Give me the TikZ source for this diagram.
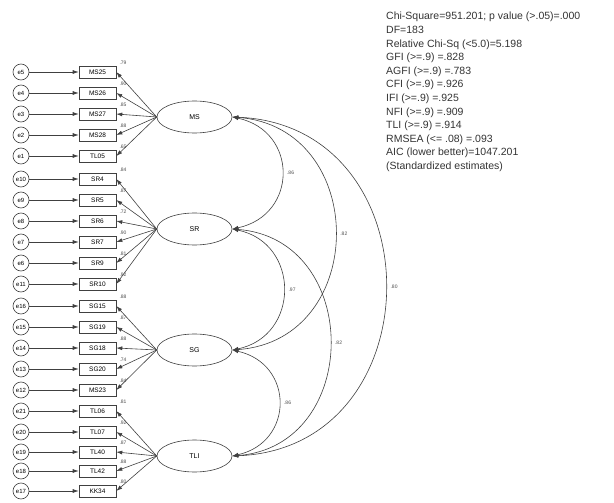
\documentclass[tikz,border=0pt]{standalone}
\usepackage{fontspec}
\setmainfont{Liberation Sans}
\usetikzlibrary{arrows.meta,shapes.geometric}
\begin{document}
\begin{tikzpicture}[x=1pt,y=-1pt,
  errnode/.style={circle,draw=black!75,line width=0.6pt,minimum size=16pt,inner sep=0pt,font=\fontsize{6}{6}\selectfont},
  obsbox/.style={rectangle,draw=black!75,line width=0.6pt,minimum width=37pt,minimum height=12pt,inner sep=0pt,font=\fontsize{6.5}{6.5}\selectfont},
  latent/.style={ellipse,draw=black!75,line width=0.6pt,minimum width=75pt,minimum height=32pt,inner sep=0pt,font=\fontsize{7}{7}\selectfont},
  lnk/.style={draw=black!75,line width=0.6pt,-{Latex[length=6pt,width=4pt]}},
  cov/.style={draw=black!75,line width=0.6pt,{Latex[length=6pt,width=4pt]}-{Latex[length=6pt,width=4pt]}},
  est/.style={font=\fontsize{5}{5}\selectfont,text=black!70,inner sep=0pt},
  fit/.style={font=\fontsize{10.5}{13.6}\selectfont,text=black!80,align=left,anchor=north west,inner sep=0pt},
]
\useasboundingbox (0,0) rectangle (614,503);

% latent factors
\node[latent] (MS)  at (194.5,117) {MS};
\node[latent] (SR)  at (194.5,229) {SR};
\node[latent] (SG)  at (194.5,350) {SG};
\node[latent] (TLI) at (194.5,456) {TLI};

% indicators: y, item, error, factor, estimate
\foreach \y/\item/\err/\fac/\est in {
  72/MS25/e5/MS/.79, 93/MS26/e4/MS/.90, 114/MS27/e3/MS/.85, 135/MS28/e2/MS/.88, 156/TL05/e1/MS/.65,
  179/SR4/e10/SR/.84, 200/SR5/e9/SR/.87, 221/SR6/e8/SR/.72, 242/SR7/e7/SR/.90, 263/SR9/e6/SR/.81, 284/SR10/e11/SR/.92,
  306/SG15/e16/SG/.88, 327/SG19/e15/SG/.87, 348/SG18/e14/SG/.88, 369/SG20/e13/SG/.74, 390/MS23/e12/SG/.84,
  411/TL06/e21/TLI/.81, 432/TL07/e20/TLI/.92, 452/TL40/e19/TLI/.87, 471/TL42/e18/TLI/.88, 491/KK34/e17/TLI/.80} {
  \node[obsbox] (b\item) at (97.5,\y) {\item};
  \node[errnode] (c\item) at (21,\y) {\err};
  \draw[lnk] (c\item) -- (b\item);
  \draw[lnk] (\fac.west) -- (b\item.east);
  \node[est,anchor=south west] at ([xshift=3pt,yshift=1pt]b\item.north east) {\est};
}

% factor covariances
\coordinate (rMS)  at (MS.east);
\coordinate (rSR)  at (SR.east);
\coordinate (rSG)  at (SG.east);
\coordinate (rTLI) at (TLI.east);
\draw[cov] (rMS) .. controls +(66,14) and +(66,-14) .. (rSR)
  node[est,pos=0.5,right=5pt] {.86};
\draw[cov] (rMS) .. controls +(137,10) and +(137,-10) .. (rSG)
  node[est,pos=0.5,right=5pt] {.82};
\draw[cov] (rMS) .. controls +(204,8) and +(204,-8) .. (rTLI)
  node[est,pos=0.5,right=5pt] {.80};
\draw[cov] (rSR) .. controls +(68,14) and +(68,-14) .. (rSG)
  node[est,pos=0.5,right=5pt] {.97};
\draw[cov] (rSR) .. controls +(130,10) and +(130,-10) .. (rTLI)
  node[est,pos=0.5,right=5pt] {.82};
\draw[cov] (rSG) .. controls +(62,14) and +(62,-14) .. (rTLI)
  node[est,pos=0.5,right=5pt] {.86};

% model fit summary
\node[fit] (stats) at (386,12) {Chi-Square=951.201; p value (>.05)=.000\\
DF=183\\
Relative Chi-Sq (<5.0)=5.198\\
GFI (>=.9) =.828\\
AGFI (>=.9) =.783\\
CFI (>=.9) =.926\\
IFI (>=.9) =.925\\
NFI (>=.9) =.909\\
TLI (>=.9) =.914\\
RMSEA (<= .08) =.093\\
AIC (lower better)=1047.201\\
(Standardized estimates)};
\end{tikzpicture}
\end{document}
